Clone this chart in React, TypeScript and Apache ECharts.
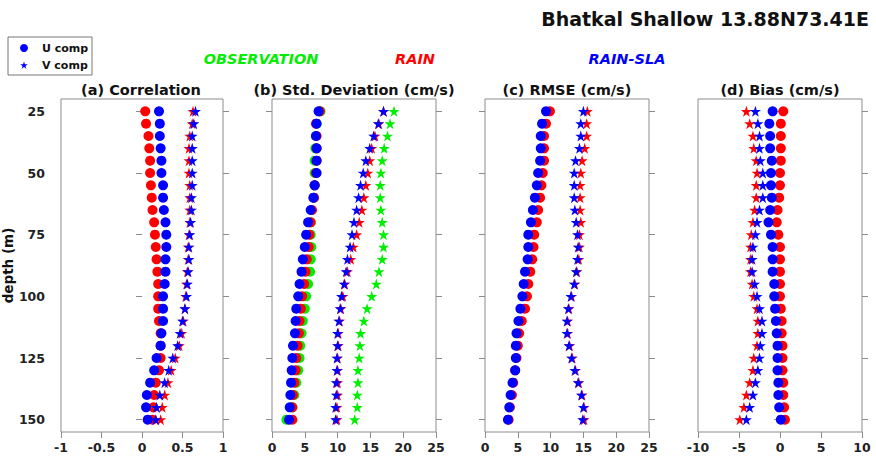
import React, { useEffect, useRef } from "react";
import * as echarts from "echarts";

const depths = [25, 30, 35, 40, 45, 50, 55, 60, 65, 70, 75, 80, 85, 90, 95, 100, 105, 110, 115, 120, 125, 130, 135, 140, 145, 150];
const depthTicks = [25, 50, 75, 100, 125, 150];

// (a) Correlation
const corrRainU = [0.04, 0.05, 0.08, 0.09, 0.10, 0.10, 0.11, 0.12, 0.13, 0.15, 0.16, 0.17, 0.18, 0.19, 0.20, 0.20, 0.20, 0.21, 0.23, 0.23, 0.23, 0.21, 0.17, 0.15, 0.14, 0.13];
const corrSlaU = [0.21, 0.22, 0.22, 0.23, 0.24, 0.24, 0.26, 0.26, 0.27, 0.29, 0.30, 0.30, 0.29, 0.29, 0.28, 0.26, 0.26, 0.26, 0.24, 0.23, 0.18, 0.15, 0.10, 0.06, 0.05, 0.07];
const corrRainV = [0.63, 0.62, 0.59, 0.58, 0.58, 0.58, 0.59, 0.59, 0.59, 0.59, 0.58, 0.57, 0.57, 0.56, 0.55, 0.54, 0.53, 0.51, 0.49, 0.46, 0.41, 0.36, 0.32, 0.28, 0.25, 0.23];
const corrSlaV = [0.66, 0.64, 0.62, 0.62, 0.62, 0.62, 0.62, 0.61, 0.61, 0.60, 0.59, 0.58, 0.58, 0.57, 0.56, 0.55, 0.53, 0.50, 0.47, 0.44, 0.38, 0.33, 0.28, 0.22, 0.18, 0.17];

// (b) Std. Deviation (cm/s)
const stdObsU = [7.4, 6.8, 6.7, 6.6, 6.5, 6.5, 6.5, 6.4, 6.0, 5.9, 5.9, 6.0, 5.9, 5.8, 5.5, 5.2, 5.0, 4.7, 4.5, 4.3, 4.2, 4.0, 3.7, 3.4, 3.1, 2.2];
const stdRainU = [7.3, 6.7, 6.8, 6.8, 6.8, 6.7, 6.5, 6.4, 6.1, 5.9, 5.7, 5.6, 5.3, 5.1, 4.9, 4.6, 4.4, 4.2, 4.1, 3.9, 3.7, 3.6, 3.4, 3.2, 3.1, 3.1];
const stdSlaU = [7.1, 6.8, 6.7, 6.8, 6.8, 6.8, 6.5, 6.3, 5.9, 5.5, 5.2, 5.0, 4.7, 4.5, 4.2, 4.0, 3.7, 3.6, 3.5, 3.2, 3.1, 3.0, 2.9, 2.8, 2.7, 2.6];
const stdObsV = [18.6, 18.0, 17.6, 17.1, 16.8, 16.6, 16.5, 16.5, 16.6, 16.8, 17.0, 17.0, 16.8, 16.3, 15.9, 15.2, 14.5, 14.0, 13.5, 13.4, 13.3, 13.1, 13.1, 13.0, 13.0, 12.6];
const stdRainV = [17.0, 16.3, 15.7, 15.2, 14.9, 14.6, 14.3, 14.0, 13.7, 13.3, 12.9, 12.4, 12.0, 11.5, 11.1, 10.8, 10.5, 10.3, 10.1, 10.1, 10.0, 10.0, 10.0, 10.0, 9.9, 9.9];
const stdSlaV = [17.0, 16.2, 15.5, 14.9, 14.3, 13.9, 13.5, 13.2, 12.9, 12.5, 12.2, 11.9, 11.5, 11.3, 11.0, 10.6, 10.4, 10.2, 10.0, 10.0, 9.9, 9.9, 9.8, 9.8, 9.7, 9.7];

// (c) RMSE (cm/s)
const rmseRainU = [9.9, 9.3, 9.0, 9.0, 9.0, 8.8, 8.6, 8.4, 8.1, 7.9, 7.5, 7.4, 7.2, 6.9, 6.6, 6.4, 6.1, 5.6, 5.2, 5.0, 4.8, 4.6, 4.3, 4.1, 3.8, 3.6];
const rmseSlaU = [9.3, 8.7, 8.5, 8.5, 8.4, 8.1, 7.9, 7.6, 7.3, 7.0, 6.6, 6.6, 6.5, 6.1, 5.9, 5.7, 5.4, 5.1, 4.8, 4.7, 4.7, 4.6, 4.2, 3.9, 3.7, 3.5];
const rmseRainV = [15.6, 15.5, 15.5, 15.2, 14.8, 14.6, 14.5, 14.5, 14.5, 14.6, 14.4, 14.4, 14.3, 14.0, 13.7, 13.2, 12.8, 12.6, 12.6, 12.9, 13.3, 13.8, 14.3, 14.8, 15.1, 15.1];
const rmseSlaV = [15.0, 14.6, 14.6, 14.4, 13.8, 13.6, 13.6, 13.6, 13.7, 13.9, 14.1, 14.2, 14.1, 13.9, 13.6, 13.1, 12.7, 12.5, 12.5, 12.8, 13.2, 13.7, 14.2, 14.7, 15.0, 14.9];

// (d) Bias (cm/s)
const biasRainU = [0.4, 0.1, 0.1, 0.1, 0.1, 0.0, 0.0, -0.1, -0.3, -0.4, -0.2, 0.0, 0.0, 0.0, 0.0, 0.0, 0.1, 0.2, 0.2, 0.3, 0.3, 0.3, 0.4, 0.4, 0.5, 0.6];
const biasSlaU = [-0.9, -1.3, -1.2, -1.2, -1.0, -1.1, -1.1, -1.0, -1.2, -1.4, -1.1, -0.9, -0.9, -0.9, -0.7, -0.7, -0.6, -0.5, -0.4, -0.3, -0.3, -0.3, -0.2, -0.2, -0.1, 0.1];
const biasRainV = [-4.1, -3.7, -3.3, -3.2, -2.9, -2.8, -2.9, -2.9, -3.1, -3.3, -3.5, -3.6, -3.6, -3.6, -3.4, -3.2, -2.8, -2.7, -2.7, -2.8, -3.2, -3.3, -3.7, -4.1, -4.4, -4.9];
const biasSlaV = [-3.0, -2.7, -2.5, -2.5, -2.4, -2.1, -2.1, -2.1, -2.5, -2.8, -3.0, -3.3, -3.4, -3.4, -3.1, -2.8, -2.5, -2.2, -2.2, -2.4, -2.5, -2.7, -3.0, -3.3, -3.7, -4.1];

const panelTitles = ["(a) Correlation", "(b) Std. Deviation (cm/s)", "(c) RMSE (cm/s)", "(d) Bias (cm/s)"];
const xRanges = [
  { min: -1, max: 1, interval: 0.5 },
  { min: 0, max: 25, interval: 5 },
  { min: 0, max: 25, interval: 5 },
  { min: -10, max: 10, interval: 5 },
];

const GREEN = "#00ee00";
const RED = "#ff0000";
const BLUE = "#0000ff";
const FONT = "DejaVu Sans";
const STAR = "path://M0,-10L2.245,-3.09L9.51,-3.09L3.633,1.18L5.878,8.09L0,3.82L-5.878,8.09L-3.633,1.18L-9.51,-3.09L-2.245,-3.09Z";

const gridLefts = [59, 272, 485, 698];
const gridWidth = 164;
const gridTop = 99;
const gridHeight = 333;

function pts(values: number[]) {
  return values.map((v, i) => [v, depths[i]]);
}

function starPoints(cx: number, cy: number, r: number) {
  const p: number[][] = [];
  for (let k = 0; k < 10; k++) {
    const ang = -Math.PI / 2 + (k * Math.PI) / 5;
    const rr = k % 2 === 0 ? r : r * 0.382;
    p.push([cx + rr * Math.cos(ang), cy + rr * Math.sin(ang)]);
  }
  return p;
}

export default function App() {
  const ref = useRef<HTMLDivElement>(null);
  useEffect(() => {
    if (!ref.current) return;
    const chart = echarts.init(ref.current, null, { renderer: "svg" });

    const grids = gridLefts.map((l) => ({
      left: l,
      top: gridTop,
      width: gridWidth,
      height: gridHeight,
      show: true,
      borderColor: "#8c8c8c",
      borderWidth: 1,
      backgroundColor: "transparent",
    }));

    const xAxes = xRanges.map((r, i) => ({
      type: "value",
      gridIndex: i,
      min: r.min,
      max: r.max,
      interval: r.interval,
      position: "bottom",
      splitLine: { show: false },
      axisLine: { show: false },
      axisTick: { show: true, inside: false, length: 6, lineStyle: { color: "#8c8c8c" } },
      axisLabel: { fontFamily: FONT, fontWeight: "bold", fontSize: 12.5, color: "#222", margin: 9 },
    }));

    const yAxes: any[] = [];
    gridLefts.forEach((_, i) => {
      ["left", "right"].forEach((pos) => {
        yAxes.push({
          type: "value",
          gridIndex: i,
          position: pos,
          inverse: true,
          min: 20,
          max: 155,
          splitLine: { show: false },
          axisLine: { show: false },
          axisTick: { show: true, inside: false, length: 6, customValues: depthTicks, lineStyle: { color: "#8c8c8c" } },
          axisLabel: {
            show: i === 0 && pos === "left",
            customValues: depthTicks,
            fontFamily: FONT,
            fontWeight: "bold",
            fontSize: 12.5,
            color: "#222",
            margin: 16,
          },
          name: i === 0 && pos === "left" ? "depth (m)" : "",
          nameLocation: "middle",
          nameGap: 36,
          nameRotate: 90,
          nameTextStyle: { fontFamily: FONT, fontWeight: "bold", fontSize: 13.5, color: "#111" },
        });
      });
    });

    const mk = (panel: number, values: number[], color: string, star: boolean) => ({
      type: "scatter",
      xAxisIndex: panel,
      yAxisIndex: panel * 2,
      data: pts(values),
      symbol: star ? STAR : "circle",
      symbolSize: star ? 11 : 10,
      itemStyle: { color, opacity: 1 },
      silent: true,
    });

    const series = [
      mk(0, corrRainU, RED, false),
      mk(0, corrRainV, RED, true),
      mk(0, corrSlaU, BLUE, false),
      mk(0, corrSlaV, BLUE, true),
      mk(1, stdObsU, GREEN, false),
      mk(1, stdObsV, GREEN, true),
      mk(1, stdRainU, RED, false),
      mk(1, stdRainV, RED, true),
      mk(1, stdSlaU, BLUE, false),
      mk(1, stdSlaV, BLUE, true),
      mk(2, rmseRainU, RED, false),
      mk(2, rmseRainV, RED, true),
      mk(2, rmseSlaU, BLUE, false),
      mk(2, rmseSlaV, BLUE, true),
      mk(3, biasRainU, RED, false),
      mk(3, biasRainV, RED, true),
      mk(3, biasSlaU, BLUE, false),
      mk(3, biasSlaV, BLUE, true),
    ];

    const catStyle = { fontFamily: FONT, fontWeight: "bold", fontStyle: "italic", fontSize: 14.5, align: "center", verticalAlign: "middle" };
    const graphics: any[] = [
      {
        type: "text",
        right: 7,
        top: 9,
        style: { text: "Bhatkal Shallow 13.88N73.41E", fontFamily: FONT, fontWeight: "bold", fontSize: 19, fill: "#111" },
      },
      { type: "rect", shape: { x: 8, y: 37, width: 84, height: 38 }, style: { fill: "#fff", stroke: "#777", lineWidth: 1 } },
      { type: "circle", shape: { cx: 24, cy: 48, r: 4 }, style: { fill: BLUE } },
      { type: "polygon", shape: { points: starPoints(24, 65.5, 4) }, style: { fill: BLUE } },
      { type: "text", x: 42, y: 48, style: { text: "U comp", fontFamily: FONT, fontWeight: "bold", fontSize: 11, fill: "#111", verticalAlign: "middle" } },
      { type: "text", x: 42, y: 65, style: { text: "V comp", fontFamily: FONT, fontWeight: "bold", fontSize: 11, fill: "#111", verticalAlign: "middle" } },
      { type: "text", x: 261, y: 59, style: { ...catStyle, text: "OBSERVATION", fill: GREEN } },
      { type: "text", x: 415, y: 59, style: { ...catStyle, text: "RAIN", fill: RED } },
      { type: "text", x: 627, y: 59, style: { ...catStyle, text: "RAIN-SLA", fill: BLUE } },
    ];
    panelTitles.forEach((t, i) => {
      graphics.push({
        type: "text",
        x: gridLefts[i] + gridWidth / 2,
        y: 90,
        style: { text: t, fontFamily: FONT, fontWeight: "bold", fontSize: 14.5, fill: "#111", align: "center", verticalAlign: "middle" },
      });
    });

    chart.setOption({
      animation: false,
      backgroundColor: "#fff",
      grid: grids,
      xAxis: xAxes,
      yAxis: yAxes,
      series,
      graphic: graphics,
    });
    return () => chart.dispose();
  }, []);

  return <div ref={ref} style={{ position: "absolute", left: 0, top: 0, width: 876, height: 460 }} />;
}
